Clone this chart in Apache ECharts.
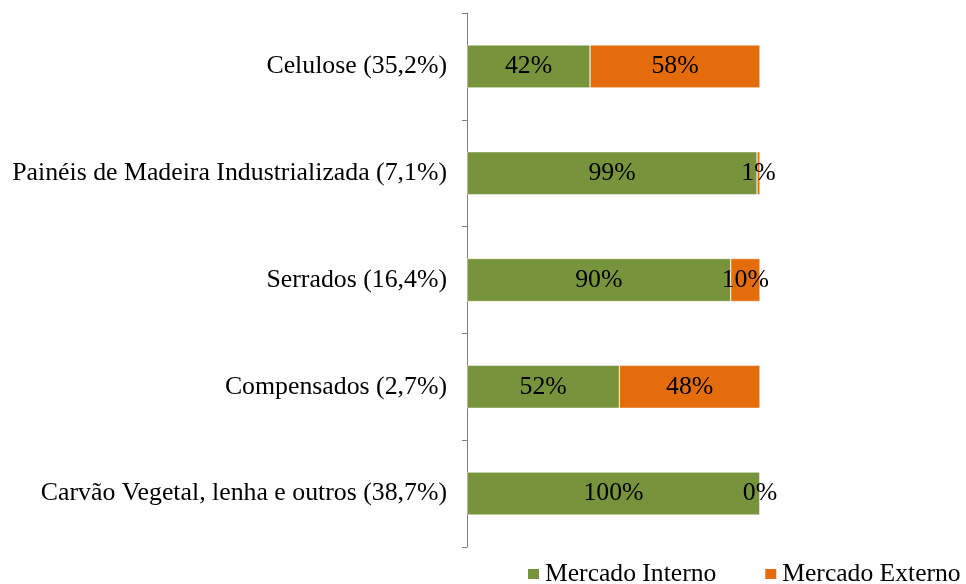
<!DOCTYPE html>
<html>
<head>
<meta charset="utf-8">
<script src="https://cdn.jsdelivr.net/npm/echarts@6/dist/echarts.min.js"></script>
<style>html,body{margin:0;padding:0;background:#fff;}#c{width:966px;height:584px;}</style>
</head>
<body>
<div id="c"></div>
<script>
const categories = ["Celulose (35,2%)", "Painéis de Madeira Industrializada (7,1%)", "Serrados (16,4%)", "Compensados (2,7%)", "Carvão Vegetal, lenha e outros (38,7%)"];
const mercadoInterno = [42, 99, 90, 52, 100];
const mercadoExterno = [58, 1, 10, 48, 0];
const seriesNames = ["Mercado Interno", "Mercado Externo"];

const chart = echarts.init(document.getElementById('c'));
const font = '"Liberation Serif", "Times New Roman", serif';
const fs = 25.8;
const lbl = {show: true, position: 'inside', color: '#000', fontFamily: font, fontSize: fs, formatter: p => p.value + '%'};
chart.setOption({
  animation: false,
  textStyle: {fontFamily: font},
  grid: {left: 467, top: 13, width: 293, height: 534, containLabel: false},
  legend: {
    left: 526, top: 561, width: 440, padding: 0, itemWidth: 13, itemHeight: 12, itemGap: 47,
    icon: 'rect',
    textStyle: {fontFamily: font, fontSize: 25.6, color: '#000'},
    data: seriesNames
  },
  xAxis: {type: 'value', min: 0, max: 100, show: false},
  yAxis: {
    type: 'category', data: categories, inverse: true,
    axisLine: {show: true, lineStyle: {color: '#7f7f7f', width: 1}},
    axisTick: {show: true, length: 5, lineStyle: {color: '#7f7f7f'}},
    axisLabel: {margin: 20, color: '#000', fontFamily: font, fontSize: fs}
  },
  series: [
    {name: seriesNames[0], type: 'bar', stack: 's', data: mercadoInterno, barWidth: 43,
     itemStyle: {color: '#77933C', borderColor: '#fff', borderWidth: 0.5}, label: lbl},
    {name: seriesNames[1], type: 'bar', stack: 's', data: mercadoExterno, barWidth: 43,
     itemStyle: {color: '#E46C0A', borderColor: '#fff', borderWidth: 0.5}, label: lbl}
  ]
});
</script>
</body>
</html>
